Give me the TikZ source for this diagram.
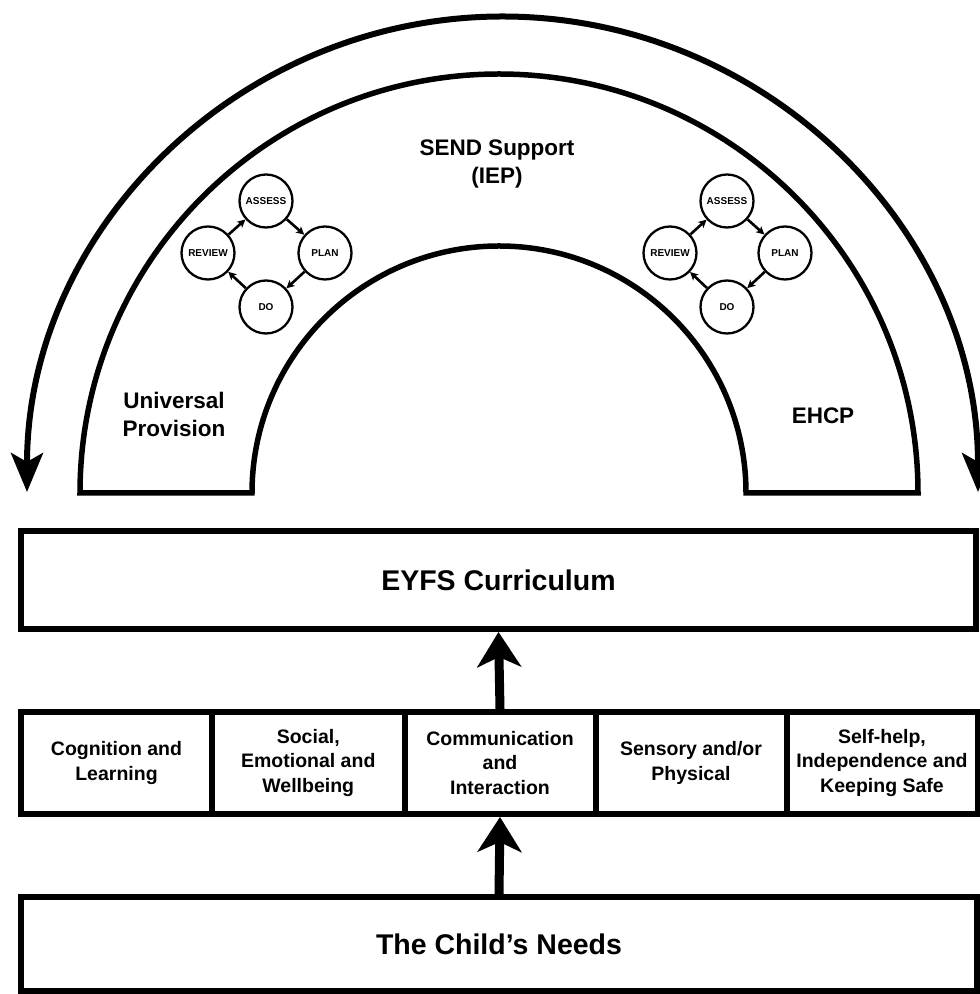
\documentclass[tikz,border=0pt]{standalone}
\usepackage{fontspec}
\setmainfont{Liberation Sans}
\usetikzlibrary{arrows.meta}
\begin{document}
\begin{tikzpicture}[x=1pt,y=1pt,
  boxstyle/.style={draw, line width=6pt, inner sep=0pt, align=center},
  bigtext/.style={font=\bfseries\fontsize{28.5}{34}\selectfont},
  rowbox/.style={boxstyle, minimum height=102pt, font=\bfseries\fontsize{19.5}{24.5}\selectfont},
  bandtext/.style={align=center, inner sep=0pt, font=\bfseries\fontsize{22.5}{28}\selectfont},
  cyc/.style={draw, circle, line width=2.3pt, minimum size=53pt, inner sep=0pt, font=\bfseries\fontsize{10}{12}\selectfont},
  cycarrow/.style={line width=2.6pt, -{Stealth[length=8pt,width=8pt,inset=2pt]}},
  bigarrow/.style={line width=9pt, -{Stealth[length=35pt,width=44pt,inset=10pt]}},
  arcarrow/.style={line width=6pt, {Stealth[length=39pt,width=32pt,inset=9pt]}-{Stealth[length=39pt,width=32pt,inset=9pt]}},
  band/.style={draw, line width=5.5pt, line join=miter}
]
\useasboundingbox (0,0) rectangle (980,994);

% outer double arrow arc
\coordinate (arcL) at (27,502);
\draw[arcarrow] (arcL) arc[start angle=180, end angle=0, radius=475.5];

% semicircular band
\draw[band] (80,501) arc[start angle=180, end angle=0, radius=419]
  -- (746,501) arc[start angle=0, end angle=180, radius=247] -- cycle;

\node[bandtext] (send) at (497,830) {SEND Support\\(IEP)};
\node[bandtext] (univ) at (174,580) {Universal\\Provision};
\node[bandtext] (ehcp) at (823,578) {EHCP};

% left cycle
\node[cyc] (la) at (266,793) {ASSESS};
\node[cyc] (lp) at (325,741) {PLAN};
\node[cyc] (ld) at (266,687) {DO};
\node[cyc] (lr) at (208,741) {REVIEW};
\draw[cycarrow] (la) -- (lp);
\draw[cycarrow] (lp) -- (ld);
\draw[cycarrow] (ld) -- (lr);
\draw[cycarrow] (lr) -- (la);

% right cycle
\node[cyc] (ra) at (727,793) {ASSESS};
\node[cyc] (rp) at (785,741) {PLAN};
\node[cyc] (rd) at (727,687) {DO};
\node[cyc] (rr) at (670,741) {REVIEW};
\draw[cycarrow] (ra) -- (rp);
\draw[cycarrow] (rp) -- (rd);
\draw[cycarrow] (rd) -- (rr);
\draw[cycarrow] (rr) -- (ra);

% EYFS box
\node[boxstyle, bigtext, minimum width=955pt, minimum height=98pt] (eyfs) at (498.5,414) {EYFS Curriculum};

% row of areas
\node[rowbox, minimum width=191pt] (r1) at (116.5,231) {Cognition and\\Learning};
\node[rowbox, minimum width=192.5pt] (r2) at (308.25,231) {Social,\\Emotional and\\Wellbeing};
\node[rowbox, minimum width=191pt] (r3) at (500,231) {Communication\\and\\Interaction};
\node[rowbox, minimum width=191pt] (r4) at (691,231) {Sensory and/or\\Physical};
\node[rowbox, minimum width=191pt] (r5) at (882,231) {Self-help,\\Independence and\\Keeping Safe};

% child's needs
\node[boxstyle, bigtext, minimum width=956pt, minimum height=94pt] (child) at (499,50) {The Child’s Needs};

\draw[bigarrow] (r3.north) -- (eyfs.south);
\draw[bigarrow] (child.north) -- (r3.south);
\end{tikzpicture}
\end{document}
